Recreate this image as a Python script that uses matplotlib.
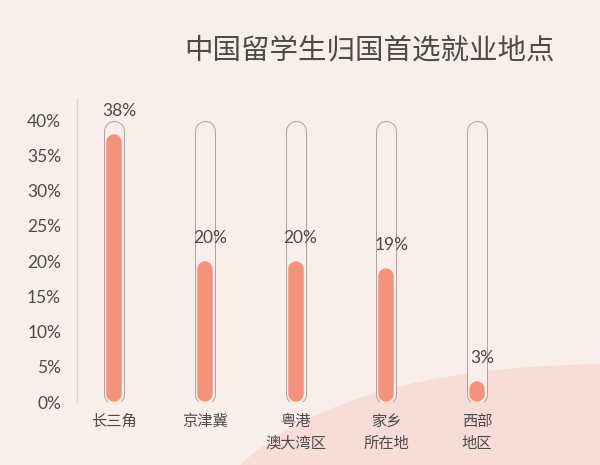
import matplotlib
matplotlib.use('Agg')
import matplotlib.pyplot as plt
from matplotlib.path import Path
from matplotlib.patches import PathPatch

# ---- data ----
categories = ['长三角', '京津冀', '粤港\n澳大湾区', '家乡\n所在地', '西部\n地区']
values = [38, 20, 20, 19, 3]
value_labels = ['38%', '20%', '20%', '19%', '3%']
yticks = [0, 5, 10, 15, 20, 25, 30, 35, 40]
ytick_labels = ['0%', '5%', '10%', '15%', '20%', '25%', '30%', '35%', '40%']
tube_max = 40
title = '中国留学生归国首选就业地点'

# ---- style ----
BG = '#f9eeea'
WAVE = '#f8ddd6'
FILL = '#f4937b'
TUBE_EDGE = '#aca4a4'
TEXT = '#4e4a4a'
NUM_FONT = ['Lato', 'Noto Sans CJK SC', 'DejaVu Sans']
CJK_FONT = ['Noto Sans CJK SC', 'DejaVu Sans']
plt.rcParams['font.family'] = CJK_FONT

W, H = 600, 465
fig = plt.figure(figsize=(W / 100, H / 100), dpi=100)
fig.patch.set_facecolor(BG)

# decorative background wave (figure pixel space)
bg_ax = fig.add_axes([0, 0, 1, 1])
bg_ax.set_xlim(0, W)
bg_ax.set_ylim(0, H)
bg_ax.axis('off')
verts = [(235, -5), (300, 60), (420, 100), (610, 101), (610, -5), (235, -5)]
codes = [Path.MOVETO, Path.CURVE4, Path.CURVE4, Path.CURVE4, Path.LINETO, Path.CLOSEPOLY]
bg_ax.add_patch(PathPatch(Path(verts, codes), facecolor=WAVE, edgecolor='none'))

# main axes
left_px, right_px, bottom_px, top_px = 77, 590, 63, 366
ax = fig.add_axes([left_px / W, bottom_px / H, (right_px - left_px) / W, (top_px - bottom_px) / H])
ax.set_facecolor('none')
ax.set_ylim(0, 43)
step = 90.75
ax.set_xlim(-(114 - left_px) / step, (right_px - 114) / step)

px_per_unit = (top_px - bottom_px) / 43.0
pt = 0.72  # points per pixel at 100 dpi

tube_w, tube_inner_w, fill_w = 21, 19, 15.5
r_t = tube_w / 2 / px_per_unit
r_f = fill_w / 2 / px_per_unit

xs = list(range(len(categories)))
for i, v in zip(xs, values):
    ax.plot([i, i], [r_t - 0.3, tube_max - r_t], color=TUBE_EDGE, lw=tube_w * pt,
            solid_capstyle='round', zorder=2)
    ax.plot([i, i], [r_t - 0.3, tube_max - r_t], color=BG, lw=tube_inner_w * pt,
            solid_capstyle='round', zorder=3)
    ax.plot([i, i], [r_f, v - r_f], color=FILL, lw=fill_w * pt,
            solid_capstyle='round', zorder=4)

for i, v, lbl in zip(xs, values, value_labels):
    ax.annotate(lbl, xy=(i, v), xytext=(5 * pt, 23 * pt), textcoords='offset points',
                ha='center', va='center', fontsize=12.5, color=TEXT, family=NUM_FONT, zorder=5)

ax.set_yticks(yticks)
ax.set_yticklabels(ytick_labels, family=NUM_FONT)
ax.set_xticks(xs)
ax.set_xticklabels(categories, linespacing=1.35)
ax.tick_params(axis='y', length=0, pad=11.5, labelsize=12.5, labelcolor=TEXT)
ax.tick_params(axis='x', length=0, pad=8, labelsize=11, labelcolor=TEXT)

for s in ['top', 'right', 'bottom']:
    ax.spines[s].set_visible(False)
ax.spines['left'].set_color('#dcd2d2')
ax.spines['left'].set_linewidth(1)

fig.text(370 / W, 1 - 50 / H, title, ha='center', va='center', fontsize=20.5,
         color=TEXT, family=CJK_FONT)

fig.savefig('out.png', dpi=100, facecolor=BG)
